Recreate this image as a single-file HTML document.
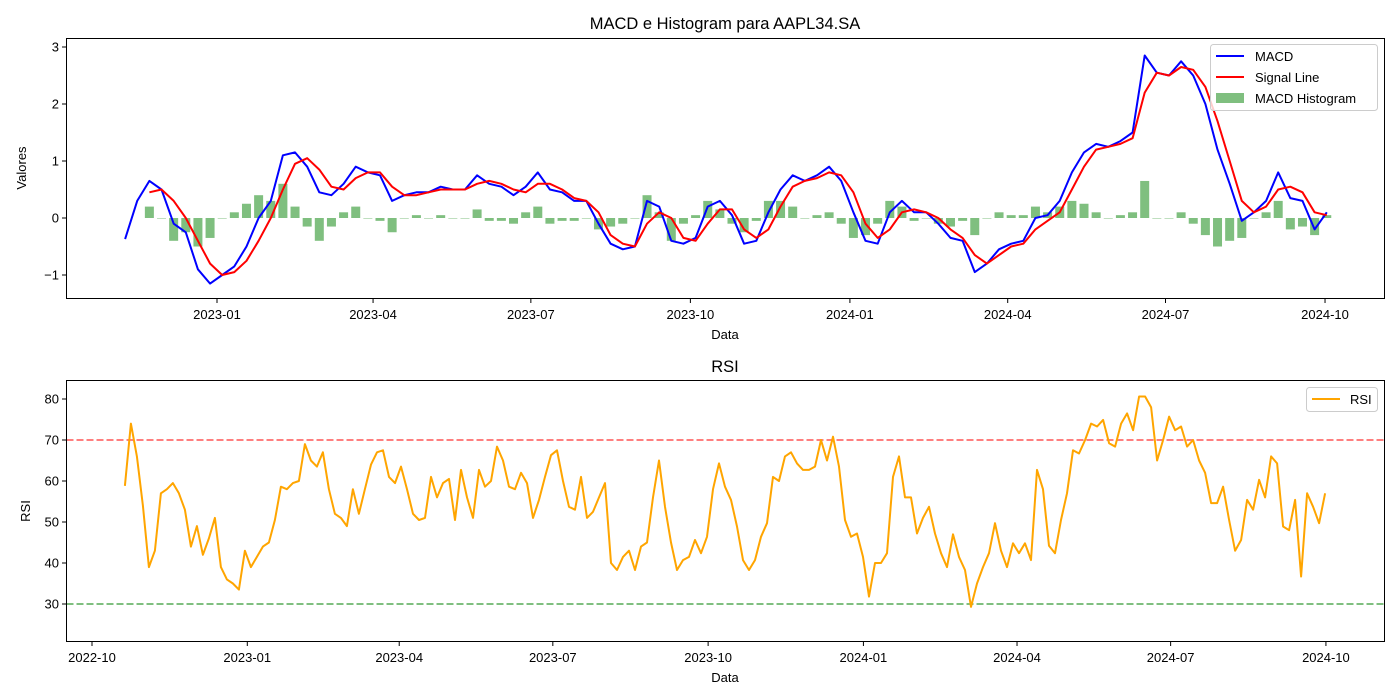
<!DOCTYPE html>
<html><head><meta charset="utf-8"><style>
html,body{margin:0;padding:0;background:#fff;}
svg{display:block;font-family:"Liberation Sans","DejaVu Sans",sans-serif;}
</style></head><body>
<svg id="c" width="1400" height="700" viewBox="0 0 1400 700"></svg>
<script>
// ---- data ----
const macdStartDay = -53; // days from 2023-01-01
const macdStepDays = 7;
const macdValues = [-0.37,0.3,0.65,0.5,-0.1,-0.25,-0.9,-1.15,-1.0,-0.85,-0.5,0.0,0.3,1.1,1.15,0.9,0.45,0.4,0.6,0.9,0.8,0.75,0.3,0.4,0.45,0.45,0.55,0.5,0.5,0.75,0.6,0.55,0.4,0.55,0.8,0.5,0.45,0.3,0.3,-0.1,-0.45,-0.55,-0.5,0.3,0.2,-0.4,-0.45,-0.35,0.2,0.3,0.05,-0.45,-0.4,0.1,0.5,0.75,0.65,0.75,0.9,0.65,0.1,-0.4,-0.45,0.1,0.3,0.1,0.1,-0.1,-0.35,-0.4,-0.95,-0.8,-0.55,-0.45,-0.4,0.0,0.05,0.3,0.8,1.15,1.3,1.25,1.35,1.5,2.85,2.55,2.5,2.75,2.5,2.0,1.2,0.6,-0.05,0.1,0.3,0.8,0.35,0.3,-0.2,0.1];
const signalValues = [null,null,0.45,0.5,0.3,0.0,-0.4,-0.8,-1.0,-0.95,-0.75,-0.4,0.0,0.5,0.95,1.05,0.85,0.55,0.5,0.7,0.8,0.8,0.55,0.4,0.4,0.45,0.5,0.5,0.5,0.6,0.65,0.6,0.5,0.45,0.6,0.6,0.5,0.35,0.3,0.1,-0.3,-0.45,-0.5,-0.1,0.1,0.0,-0.35,-0.4,-0.1,0.15,0.15,-0.2,-0.35,-0.2,0.2,0.55,0.65,0.7,0.8,0.75,0.45,-0.1,-0.35,-0.2,0.1,0.15,0.1,0.0,-0.2,-0.35,-0.65,-0.8,-0.65,-0.5,-0.45,-0.2,-0.05,0.1,0.5,0.9,1.2,1.25,1.3,1.4,2.2,2.55,2.5,2.65,2.6,2.3,1.7,1.0,0.3,0.1,0.2,0.5,0.55,0.45,0.1,0.05];
const rsiStartDay = 19.5; // days from 2022-10-01
const rsiStepDays = 3.555;
const rsiValues = [58.8,74,66,54,39,43,57,58,59.5,57,53,44,49,42,46,51,39,36,35,33.5,43,39,41.5,44,45,50.5,58.6,58,59.5,60,69,65,63.5,67,58,52,51,49,58,52,58,64,67,67.5,61,59.5,63.5,58,52,50.5,51,61,56,59.5,60.5,50.5,62.7,56,51,62.7,58.6,60,68.4,65,58.6,58,62,59.5,51,
55.4,61,66.3,67.5,60,53.7,53,61,51,52.5,56,59.5,40,38.3,41.5,43,38.3,44,45,56,65,53.7,45,38.3,40.7,41.5,45.6,42.4,46.4,58,64.3,58.6,55.4,48.9,40.7,38.3,40.7,46.4,49.7,61,60,66,67,64.3,62.7,62.7,63.5,70,65,70.8,63.5,50.5,46.4,47.2,41.5,31.8,40,40,42.4,61,66,56,56,47.2,51,53.7,47.2,42.4,39,
47,41.5,38.3,29.3,35,39,42.4,49.7,43,39,44.8,42.4,44.8,40.7,62.7,58,44.2,42.4,50.5,57,67.5,66.7,70,74,73.3,74.9,69.2,68.4,74,76.5,72.4,80.6,80.6,78,65,70,75.7,72.4,73.3,68.4,70,65,62,54.6,54.6,58.6,50.5,43,45.6,55.4,53,60.3,56,66,64.3,48.9,48,55.4,36.7,57,53.7,49.7,57];
const topTickDays = [0,90,181,273,365,456,547,639];
const topTickLabels = ["2023-01","2023-04","2023-07","2023-10","2024-01","2024-04","2024-07","2024-10"];
const topYTicks = [-1,0,1,2,3];
const botTickDays = [0,92,182,273,365,457,548,639,731];
const botTickLabels = ["2022-10","2023-01","2023-04","2023-07","2023-10","2024-01","2024-04","2024-07","2024-10"];
const botYTicks = [30,40,50,60,70,80];
const rsiLevels = [70,30];

// ---- scales ----
const tx = d => 217 + d*1.734;
const ty = v => 218 - v*57;
const bx = d => 92 + d*1.688;
const by = v => 399 + (80 - v)*4.1;

const NS = "http://www.w3.org/2000/svg";
const svgEl = document.getElementById('c');
function mk(tag, attrs, parent){
  const e = document.createElementNS(NS, tag);
  for (const k in attrs) e.setAttribute(k, attrs[k]);
  (parent||svgEl).appendChild(e);
  return e;
}
function txt(s, attrs, parent){ const e = mk('text', attrs, parent); e.textContent = s; return e; }
function linePath(vals, xf, yf){
  let d = '', started = false;
  vals.forEach((v, i) => {
    if (v === null) return;
    const p = xf(i).toFixed(1) + ',' + yf(v).toFixed(1);
    d += (started ? 'L' : 'M') + p; started = true;
  });
  return d;
}

// ---- top panel ----
const topG = mk('g', {});


const hist = mk('g', {}, topG);


macdValues.forEach((m, i) => {
  const s = signalValues[i];
  if (s === null) return;
  const h = m - s;
  const cx = tx(macdStartDay + i*macdStepDays);
  const y0 = ty(0), y1 = ty(h);
  const r = mk('rect', {x: cx-4.5, y: Math.min(y0,y1), width: 9, height: Math.max(0.5, Math.abs(y1-y0)), fill: 'green', 'fill-opacity': 0.5}, hist);
  
  
});
const macdLine = mk('path', {d: linePath(macdValues, i => tx(macdStartDay + i*macdStepDays), ty), fill: 'none', stroke: 'blue', 'stroke-width': 2, 'stroke-linejoin': 'round'}, topG);


const sigLine = mk('path', {d: linePath(signalValues, i => tx(macdStartDay + i*macdStepDays), ty), fill: 'none', stroke: 'red', 'stroke-width': 2, 'stroke-linejoin': 'round'}, topG);


const topFrame = mk('rect', {x: 66.5, y: 38.5, width: 1318, height: 260, fill: 'none', stroke: '#000', 'stroke-width': 1}, topG);


topTickDays.forEach((d, i) => {
  const x = tx(d);
  mk('line', {x1: x, x2: x, y1: 298.5, y2: 303, stroke: '#000'}, topG);
  const t = txt(topTickLabels[i], {x: x, y: 319, 'text-anchor': 'middle', 'font-size': 13}, topG);
  
  
});
topYTicks.forEach(v => {
  const y = ty(v);
  mk('line', {x1: 62, x2: 66.5, y1: y, y2: y, stroke: '#000'}, topG);
  const t = txt(String(v).replace('-', '\u2212'), {x: 59, y: y+4.5, 'text-anchor': 'end', 'font-size': 13}, topG);
  
  
});
const t1 = txt('MACD e Histogram para AAPL34.SA', {x: 725, y: 29, 'text-anchor': 'middle', 'font-size': 16.5}, topG);


const xl1 = txt('Data', {x: 725, y: 339, 'text-anchor': 'middle', 'font-size': 13}, topG);


const yl1 = txt('Valores', {x: 0, y: 0, 'text-anchor': 'middle', 'font-size': 13, transform: 'translate(26,168) rotate(-90)'}, topG);


const lg = mk('g', {}, topG);


mk('rect', {x: 1210.5, y: 44.5, width: 167, height: 66, rx: 3, fill: '#fff', 'fill-opacity': 0.8, stroke: '#ccc'}, lg);
mk('line', {x1: 1216, x2: 1244, y1: 56, y2: 56, stroke: 'blue', 'stroke-width': 2}, lg);
txt('MACD', {x: 1255, y: 61, 'font-size': 13}, lg);
mk('line', {x1: 1216, x2: 1244, y1: 77, y2: 77, stroke: 'red', 'stroke-width': 2}, lg);
txt('Signal Line', {x: 1255, y: 82, 'font-size': 13}, lg);
mk('rect', {x: 1216, y: 93, width: 28, height: 10, fill: 'green', 'fill-opacity': 0.5}, lg);
txt('MACD Histogram', {x: 1255, y: 103, 'font-size': 13}, lg);

// ---- bottom panel ----
const botG = mk('g', {});


rsiLevels.forEach((lv, i) => {
  const l = mk('line', {x1: 66.5, x2: 1384.5, y1: by(lv), y2: by(lv), stroke: i===0 ? 'red' : 'green', 'stroke-opacity': 0.5, 'stroke-width': 2, 'stroke-dasharray': '7,3'}, botG);
  
  
});
const rsiLine = mk('path', {d: linePath(rsiValues, i => bx(rsiStartDay + i*rsiStepDays), by), fill: 'none', stroke: 'orange', 'stroke-width': 2, 'stroke-linejoin': 'round'}, botG);


const botFrame = mk('rect', {x: 66.5, y: 380.5, width: 1318, height: 261, fill: 'none', stroke: '#000', 'stroke-width': 1}, botG);


botTickDays.forEach((d, i) => {
  const x = bx(d);
  mk('line', {x1: x, x2: x, y1: 641.5, y2: 646, stroke: '#000'}, botG);
  const t = txt(botTickLabels[i], {x: x, y: 662, 'text-anchor': 'middle', 'font-size': 13}, botG);
  
  
});
botYTicks.forEach(v => {
  const y = by(v);
  mk('line', {x1: 62, x2: 66.5, y1: y, y2: y, stroke: '#000'}, botG);
  const t = txt(String(v), {x: 59, y: y+4.5, 'text-anchor': 'end', 'font-size': 13}, botG);
  
  
});
const t2 = txt('RSI', {x: 725, y: 372, 'text-anchor': 'middle', 'font-size': 16.5}, botG);


const xl2 = txt('Data', {x: 725, y: 682, 'text-anchor': 'middle', 'font-size': 13}, botG);


const yl2 = txt('RSI', {x: 0, y: 0, 'text-anchor': 'middle', 'font-size': 13, transform: 'translate(30,511) rotate(-90)'}, botG);


const lg2 = mk('g', {}, botG);


mk('rect', {x: 1306.5, y: 387.5, width: 71, height: 24, rx: 3, fill: '#fff', 'fill-opacity': 0.8, stroke: '#ccc'}, lg2);
mk('line', {x1: 1312, x2: 1340, y1: 399, y2: 399, stroke: 'orange', 'stroke-width': 2}, lg2);
txt('RSI', {x: 1350, y: 404, 'font-size': 13}, lg2);
</script>
</body></html>
